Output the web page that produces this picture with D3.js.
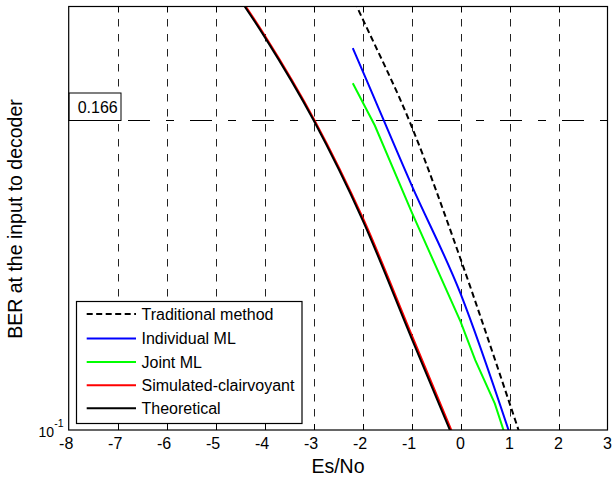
<!DOCTYPE html>
<html>
<head>
<meta charset="utf-8">
<script src="https://cdn.jsdelivr.net/npm/d3@7"></script>
<style>
  html, body { margin: 0; padding: 0; background: #fff; }
  svg { display: block; }
  text { font-family: "Liberation Sans", Arial, Helvetica, sans-serif; fill: #000; }
</style>
</head>
<body>
<svg id="chart" width="613" height="481"></svg>
<script>
// ---------------- data ----------------
const xTicks = [-8, -7, -6, -5, -4, -3, -2, -1, 0, 1, 2, 3];
const xDomain = [-8, 3];
const yDomain = [0.1, 0.2];
const yTickLabelBase = "10";
const yTickLabelExp = "-1";
const refValue = 0.166;
const refLabel = "0.166";
const xLabel = "Es/No";
const yLabel = "BER at the input to decoder";

const traditionalEsNo = [-3, -2, -1, 0, 1, 2];
const traditionalBER  = [0.232, 0.196, 0.1644, 0.1323, 0.1045, 0.082];

const individualEsNo = [-2.2, -2, -1, 0, 1];
const individualBER  = [0.1868, 0.1800, 0.1493, 0.1250, 0.0995];

const jointEsNo = [-2.2, -1.75, -1, 0, 0.3, 0.7, 1];
const jointBER  = [0.1764, 0.1646, 0.1429, 0.1194, 0.1121, 0.1044, 0.0970];

const simulatedEsNo = [-5, -4, -3, -2, -1, 0];
const simulatedBER  = [0.2145, 0.1905, 0.1662, 0.1413, 0.1166, 0.0962];

const theoreticalEsNo = [-5, -4, -3, -2, -1, 0];
const theoreticalBER  = [0.2143, 0.1903, 0.1660, 0.1410, 0.1162, 0.0959];

const seriesNames = ["Traditional method", "Individual ML", "Joint ML", "Simulated-clairvoyant", "Theoretical"];

// ---------------- layout ----------------
const L = 68.7, R = 607.5, T = 6.5, B = 430;
const svg = d3.select("#chart");

const x = d3.scaleLinear().domain(xDomain).range([L, R]);
const y = d3.scaleLog().domain(yDomain).range([B, T]);

svg.append("rect").attr("width", 613).attr("height", 481).attr("fill", "#fff");

svg.append("defs").append("clipPath").attr("id", "clip")
  .append("rect").attr("x", L).attr("y", T).attr("width", R - L).attr("height", B - T);

// vertical grid lines
const crisp = v => Math.round(v) + 0.5;
svg.append("g").selectAll("line")
  .data(xTicks.slice(1, -1))
  .join("line")
  .attr("x1", d => crisp(x(d))).attr("x2", d => crisp(x(d)))
  .attr("y1", B).attr("y2", T)
  .attr("stroke", "#222").attr("stroke-width", 1)
  .attr("stroke-dasharray", "7.5,7.5")
  .attr("stroke-dashoffset", 1.5);

// reference line at 0.166
svg.append("line")
  .attr("x1", L).attr("x2", R)
  .attr("y1", Math.round(y(refValue)) + 0.5).attr("y2", Math.round(y(refValue)) + 0.5)
  .attr("stroke", "#000").attr("stroke-width", 1)
  .attr("stroke-dasharray", "22,16,8,16")
  .attr("stroke-dashoffset", 2.7);

// series
const mk = (xs, ys) => xs.map((d, i) => ({ x: d, y: ys[i] }));
const lineSmooth = d3.line().x(d => x(d.x)).y(d => y(d.y)).curve(d3.curveMonotoneX);
const lineLin = d3.line().x(d => x(d.x)).y(d => y(d.y));
const series = [
  { name: seriesNames[3], data: mk(simulatedEsNo, simulatedBER), color: "#ff0000", dash: null, gen: lineSmooth, dx: 0.6 },
  { name: seriesNames[4], data: mk(theoreticalEsNo, theoreticalBER), color: "#000000", dash: null, gen: lineSmooth, dx: 0 },
  { name: seriesNames[2], data: mk(jointEsNo, jointBER), color: "#00ff00", dash: null, gen: lineLin, dx: 0 },
  { name: seriesNames[1], data: mk(individualEsNo, individualBER), color: "#0000ff", dash: null, gen: lineSmooth, dx: 0 },
  { name: seriesNames[0], data: mk(traditionalEsNo, traditionalBER), color: "#000000", dash: "6,3.5", gen: lineSmooth, dx: 0 }
];
const gLines = svg.append("g").attr("clip-path", "url(#clip)");
series.forEach(s => {
  gLines.append("path")
    .attr("d", s.gen(s.data))
    .attr("fill", "none")
    .attr("stroke", s.color)
    .attr("stroke-width", 2)
    .attr("stroke-dasharray", s.dash)
    .attr("transform", s.dx ? `translate(${s.dx},0)` : null);
});

// reference label box
const refY = Math.round(y(refValue)) + 0.5;
svg.append("rect")
  .attr("x", L + 0.3).attr("y", refY - 27.5).attr("width", 52).attr("height", 27.5)
  .attr("fill", "#fff").attr("stroke", "#000").attr("stroke-width", 1);
svg.append("text")
  .attr("x", L + 9).attr("y", refY - 7.5)
  .attr("font-size", 16)
  .text(refLabel);

// axes box
svg.append("rect")
  .attr("x", L).attr("y", T).attr("width", R - L).attr("height", B - T)
  .attr("fill", "none").attr("stroke", "#000").attr("stroke-width", 1.2);

// tick marks (bottom & top, inward)
const inner = xTicks.slice(1, -1);
svg.append("g").selectAll("line").data(inner).join("line")
  .attr("x1", d => crisp(x(d))).attr("x2", d => crisp(x(d)))
  .attr("y1", B).attr("y2", B - 6)
  .attr("stroke", "#000").attr("stroke-width", 1);
svg.append("g").selectAll("line").data(inner).join("line")
  .attr("x1", d => crisp(x(d))).attr("x2", d => crisp(x(d)))
  .attr("y1", T).attr("y2", T + 6)
  .attr("stroke", "#000").attr("stroke-width", 1);

// x tick labels
svg.append("g").selectAll("text").data(xTicks).join("text")
  .attr("x", d => x(d) + (d < 0 ? -2.5 : 0))
  .attr("y", 448.5)
  .attr("text-anchor", "middle")
  .attr("font-size", 16)
  .text(d => d);

// y tick label 10^-1
svg.append("text").attr("x", 63.5).attr("y", 427).attr("text-anchor", "end")
  .attr("font-size", 10.5).text(yTickLabelExp);
svg.append("text").attr("x", 54).attr("y", 437).attr("text-anchor", "end")
  .attr("font-size", 14).text(yTickLabelBase);

// axis labels
svg.append("text").attr("x", 338).attr("y", 473).attr("text-anchor", "middle")
  .attr("font-size", 19.5).text(xLabel);
svg.append("text")
  .attr("transform", "translate(22,219) rotate(-90)")
  .attr("text-anchor", "middle")
  .attr("font-size", 19.5).text(yLabel);

// legend
const lg = svg.append("g");
lg.append("rect").attr("x", 76.5).attr("y", 301.5).attr("width", 225.5).attr("height", 122)
  .attr("fill", "#fff").attr("stroke", "#000").attr("stroke-width", 1.2);
const legendItems = [
  { name: seriesNames[0], color: "#000000", dash: "6,3.5" },
  { name: seriesNames[1], color: "#0000ff", dash: null },
  { name: seriesNames[2], color: "#00ff00", dash: null },
  { name: seriesNames[3], color: "#ff0000", dash: null },
  { name: seriesNames[4], color: "#000000", dash: null }
];
const legendYs = [314, 338.5, 362, 385.2, 408.2];
legendItems.forEach((it, i) => {
  const cy = legendYs[i];
  lg.append("line").attr("x1", 86.7).attr("x2", 136).attr("y1", cy).attr("y2", cy)
    .attr("stroke", it.color).attr("stroke-width", 2).attr("stroke-dasharray", it.dash);
  lg.append("text").attr("x", 141.5).attr("y", cy + 5.5).attr("font-size", 16).text(it.name);
});
</script>
</body>
</html>
